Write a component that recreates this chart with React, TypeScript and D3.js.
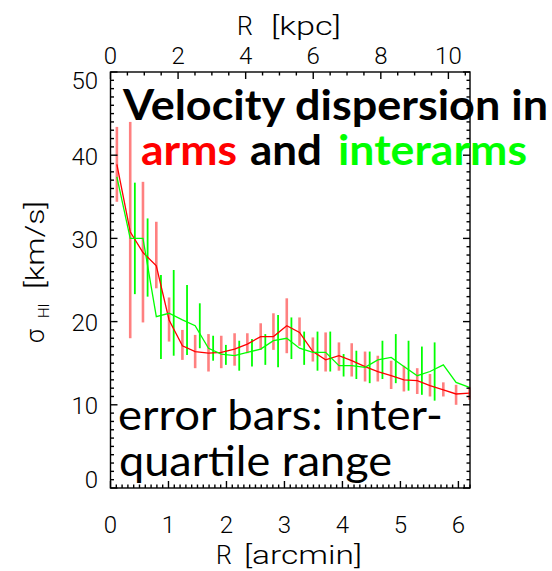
import React from "react";
import * as d3 from "d3";

// Radial bins (arcmin) and HI velocity dispersion (km/s) with inter-quartile ranges
const R_ARCMIN = [0.11, 0.34, 0.56, 0.79, 1.01, 1.24, 1.46, 1.69, 1.91, 2.14, 2.36, 2.59, 2.81, 3.04, 3.26, 3.49, 3.71, 3.94, 4.16, 4.39, 4.61, 4.84, 5.06, 5.29, 5.51, 5.74, 5.96, 6.19];

const ARMS = [38.9, 30.8, 28.3, 26.7, 20.2, 17.1, 16.4, 16.2, 16.3, 16.7, 17.3, 18.2, 18.2, 19.5, 18.7, 16.4, 15.4, 15.9, 15.3, 14.6, 14.0, 13.5, 13.0, 12.9, 12.3, 11.8, 11.3, 11.4];
const ARMS_Q1 = [34.4, 18.0, 19.9, 24.0, 17.6, 15.4, 14.4, 14.0, 14.4, 14.7, 16.2, 16.6, 16.6, 16.2, 17.1, 15.2, 14.0, 14.1, 13.4, 12.8, 12.8, 11.9, 11.6, 11.3, 11.0, 11.0, 10.0, 10.6];
const ARMS_Q3 = [43.4, 44.0, 36.8, 32.0, 22.9, 19.0, 18.4, 18.5, 18.3, 18.6, 18.6, 19.8, 21.0, 22.8, 20.5, 18.1, 18.7, 17.5, 17.4, 16.4, 15.9, 15.3, 14.7, 14.4, 13.7, 12.7, 12.4, 12.1];

const INTERARMS = [37.4, 30.0, 30.0, 20.6, 21.0, 20.2, 19.5, 16.8, 16.1, 15.9, 16.3, 16.7, 17.7, 18.0, 16.8, 16.3, 16.3, 14.7, 14.7, 14.5, 15.4, 15.7, 14.6, 13.5, 14.0, 14.8, 12.7, 12.1];
const INTERARMS_Q1: (number | null)[] = [null, 23.3, 23.0, 15.5, 15.9, 16.0, 16.8, 15.3, 14.8, 14.1, 14.6, 14.8, 14.5, 15.5, 14.8, 14.1, 14.0, 13.4, 13.1, 12.6, 13.1, 12.6, 11.7, 11.2, 10.5, null, null, null];
const INTERARMS_Q3: (number | null)[] = [null, 36.7, 32.4, 25.6, 26.2, 24.4, 22.2, 18.3, 17.2, 17.7, 17.9, 18.5, 20.8, 20.5, 18.8, 18.8, 18.8, 16.1, 16.5, 16.4, 17.7, 18.5, 17.7, 17.0, 17.5, null, null, null];
// interarm error bars are drawn slightly to the right of the bin centre
const INTERARM_BAR_SHIFT = 0.08;

const X_MAX_ARCMIN = 6.2;
const KPC_PER_ARCMIN = 1.716;
const Y_MAX = 50;

const X_TICKS_ARCMIN = [0, 1, 2, 3, 4, 5, 6];
const X_TICKS_KPC = [0, 2, 4, 6, 8, 10];
const Y_TICKS = [0, 10, 20, 30, 40, 50];

const RED = "#ff0000";
const RED_BAR = "#ff8080";
const GREEN = "#00ff00";

const AXIS_FONT = "Roboto, 'DejaVu Sans', sans-serif";
const NOTE_FONT = "Lato, 'Open Sans', sans-serif";

export default function App() {
  const W = 552;
  const H = 571;
  const left = 110.5;
  const right = 470;
  const top = 72;
  const bottom = 488;

  const x = d3.scaleLinear().domain([0, X_MAX_ARCMIN]).range([left, right]);
  const xk = d3.scaleLinear().domain([0, X_MAX_ARCMIN * KPC_PER_ARCMIN]).range([left, right]);
  const y = d3.scaleLinear().domain([0, Y_MAX]).range([bottom, top]);

  const minorArc = d3.range(0, X_MAX_ARCMIN + 1e-6, 0.1);
  const minorKpc = d3.range(0, X_MAX_ARCMIN * KPC_PER_ARCMIN + 1e-6, 0.5);
  const minorY = d3.range(0, Y_MAX + 1e-6, 1);

  const line = d3
    .line<number>()
    .x((_, i) => x(R_ARCMIN[i]))
    .y((d) => y(d));

  const major = 7;
  const minor = 3.5;

  return (
    <svg width={W} height={H} style={{ position: "absolute", left: 0, top: 0, background: "#fff" }}>
      <rect x={0} y={0} width={W} height={H} fill="#fff" />

      {/* error bars */}
      <g stroke={RED_BAR} strokeWidth={2.6}>
        {R_ARCMIN.map((r, i) => (
          <line key={i} x1={x(r)} x2={x(r)} y1={y(ARMS_Q1[i])} y2={y(ARMS_Q3[i])} />
        ))}
      </g>
      <g stroke={GREEN} strokeWidth={1.8}>
        {R_ARCMIN.map((r, i) => {
          const lo = INTERARMS_Q1[i];
          const hi = INTERARMS_Q3[i];
          if (lo == null || hi == null) return null;
          const xx = x(r + INTERARM_BAR_SHIFT);
          return <line key={i} x1={xx} x2={xx} y1={y(lo)} y2={y(hi)} />;
        })}
      </g>

      {/* profiles */}
      <path d={line(ARMS) ?? ""} fill="none" stroke={RED} strokeWidth={1.3} />
      <path d={line(INTERARMS) ?? ""} fill="none" stroke={GREEN} strokeWidth={1.3} />

      {/* frame and ticks */}
      <g stroke="#000" strokeWidth={1.4} fill="none">
        <rect x={left} y={top} width={right - left} height={bottom - top} />
        {minorArc.map((v, i) => {
          const isMajor = Math.abs(v - Math.round(v)) < 1e-6;
          const len = isMajor ? major : minor;
          return <line key={"b" + i} x1={x(v)} x2={x(v)} y1={bottom} y2={bottom - len} />;
        })}
        {minorKpc.map((v, i) => {
          const isMajor = Math.abs(v / 2 - Math.round(v / 2)) < 1e-6;
          const len = isMajor ? major : minor;
          return <line key={"t" + i} x1={xk(v)} x2={xk(v)} y1={top} y2={top + len} />;
        })}
        {minorY.map((v, i) => {
          const isMajor = v % 10 === 0;
          const len = isMajor ? major : minor;
          return (
            <g key={"y" + i}>
              <line x1={left} x2={left + len} y1={y(v)} y2={y(v)} />
              <line x1={right} x2={right - len} y1={y(v)} y2={y(v)} />
            </g>
          );
        })}
      </g>

      {/* tick labels */}
      <g fontFamily={AXIS_FONT} fontWeight={300} fontSize={24} fill="#000">
        {X_TICKS_ARCMIN.map((v) => (
          <text key={"xa" + v} x={x(v)} y={533} textAnchor="middle">
            {v}
          </text>
        ))}
        {X_TICKS_KPC.map((v) => (
          <text key={"xk" + v} x={xk(v)} y={63.5} textAnchor="middle">
            {v}
          </text>
        ))}
        {Y_TICKS.map((v) => (
          <text
            key={"yl" + v}
            x={98}
            y={Math.min(Math.max(y(v) + 1.5, top + 9), bottom - 8)}
            textAnchor="end"
            dominantBaseline="central"
          >
            {v}
          </text>
        ))}
      </g>

      {/* axis titles */}
      <g fontFamily={AXIS_FONT} fontWeight={300} fontSize={25} fill="#000">
        <text x={216} y={564}>R</text>
        <text x={244} y={564} textLength={118} lengthAdjust="spacingAndGlyphs">
          [arcmin]
        </text>
        <text x={237} y={35}>R</text>
        <text x={271} y={35} textLength={70} lengthAdjust="spacingAndGlyphs">
          [kpc]
        </text>
        <g transform="translate(44, 0) rotate(-90)">
          <text x={-343}>σ</text>
          <text x={-318} y={5} fontSize={15}>
            HI
          </text>
          <text x={-289} textLength={88} lengthAdjust="spacingAndGlyphs">
            [km/s]
          </text>
        </g>
      </g>

      {/* annotations */}
      <g fontFamily={NOTE_FONT} fontSize={42}>
        <text x={123} y={120} fontWeight={700} fill="#000" textLength={425} lengthAdjust="spacingAndGlyphs">
          Velocity dispersion in
        </text>
        <text x={141} y={165} fontWeight={700} fill={RED} textLength={96} lengthAdjust="spacingAndGlyphs">
          arms
        </text>
        <text x={250} y={165} fontWeight={700} fill="#000" textLength={72} lengthAdjust="spacingAndGlyphs">
          and
        </text>
        <text x={338} y={165} fontWeight={700} fill={GREEN} textLength={189} lengthAdjust="spacingAndGlyphs">
          interarms
        </text>
        <text x={118} y={430} fill="#000" textLength={325} lengthAdjust="spacingAndGlyphs">
          error bars: inter-
        </text>
        <text x={119} y={476} fill="#000" textLength={273} lengthAdjust="spacingAndGlyphs">
          quartile range
        </text>
      </g>
    </svg>
  );
}
